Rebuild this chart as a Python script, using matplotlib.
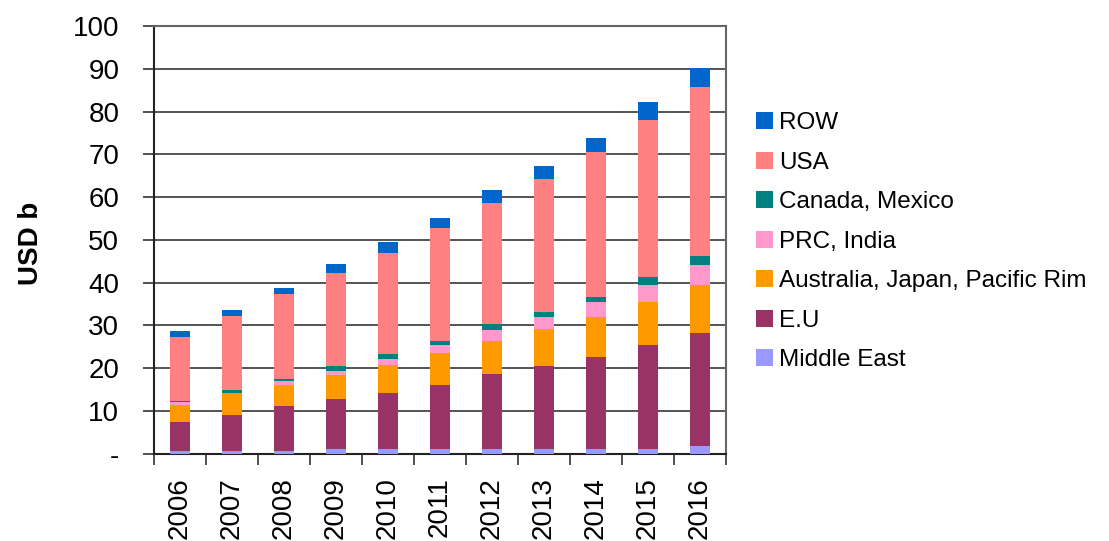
import numpy as np
import matplotlib
matplotlib.use("Agg")
import matplotlib.pyplot as plt
from matplotlib.ticker import FixedLocator

plt.rcParams['font.family'] = ['Liberation Sans', 'DejaVu Sans']

# --- dados (USD b) ---
anos = ['2006', '2007', '2008', '2009', '2010', '2011', '2012', '2013', '2014', '2015', '2016']
middle_east = [0.7, 0.7, 0.7, 1.1, 1.1, 1.1, 1.1, 1.1, 1.1, 1.1, 1.8]
eu = [6.8, 8.4, 10.5, 11.7, 13.1, 15.0, 17.6, 19.4, 21.5, 24.3, 26.4]
australia_japan = [4.0, 5.0, 4.9, 5.6, 6.6, 7.5, 7.7, 8.7, 9.4, 10.1, 11.2]
prc_india = [0.7, 0.1, 1.0, 0.9, 1.4, 1.9, 2.6, 2.8, 3.5, 4.0, 4.7]
canada_mexico = [0.2, 0.8, 0.5, 1.2, 1.2, 0.9, 1.4, 1.2, 1.2, 1.9, 2.1]
usa = [15.0, 17.1, 19.8, 21.8, 23.6, 26.4, 28.3, 31.1, 33.9, 36.7, 39.5]
row = [1.2, 1.6, 1.4, 2.1, 2.6, 2.3, 3.0, 3.0, 3.3, 4.2, 4.5]

series = [
    ('Middle East', middle_east, '#9999FF'),
    ('E.U', eu, '#993366'),
    ('Australia, Japan, Pacific Rim', australia_japan, '#FF9900'),
    ('PRC, India', prc_india, '#FF99CC'),
    ('Canada, Mexico', canada_mexico, '#008080'),
    ('USA', usa, '#FF8080'),
    ('ROW', row, '#0066CC'),
]

fig = plt.figure(figsize=(11.09, 5.41), dpi=100)
ax = fig.add_axes([0.1389, 0.1612, 0.5158, 0.7907])

x = np.arange(len(anos))
base = np.zeros(len(anos))
barras = []
for nome, valores, cor in series:
    b = ax.bar(x, valores, bottom=base, width=0.40, color=cor, label=nome, zorder=3)
    barras.append(b)
    base += np.array(valores)

# eixos e grade
ax.set_xlim(-0.5, len(anos) - 0.5)
ax.set_ylim(0, 100)
ax.set_yticks(range(0, 101, 10))
ax.set_yticklabels(['-'] + [str(v) for v in range(10, 101, 10)], fontsize=20)
ax.yaxis.grid(True, color='#555555', linewidth=1.4, zorder=0)
ax.set_axisbelow(True)

ax.set_xticks(x)
ax.set_xticklabels(anos, rotation=90, fontsize=20)
ax.xaxis.set_minor_locator(FixedLocator(np.arange(-0.5, len(anos), 1.0)))
ax.tick_params(axis='x', which='major', length=0, pad=17)
ax.tick_params(axis='x', which='minor', length=8, width=1.2, color='#333333')
ax.tick_params(axis='y', length=8, width=1.2, color='#333333', pad=17)

for lado in ['left', 'bottom']:
    ax.spines[lado].set_color('#222222')
    ax.spines[lado].set_linewidth(1.5)
for lado in ['top', 'right']:
    ax.spines[lado].set_color('#666666')
    ax.spines[lado].set_linewidth(1.5)

fig.text(31 / 1109, 1 - 243 / 541, 'USD b', rotation=90, fontsize=20,
         fontweight='bold', ha='center', va='center')

# legenda (ordem invertida: ROW no topo)
fig.legend(barras[::-1], [s[0] for s in series][::-1],
           loc='upper left', bbox_to_anchor=(756 / 1109, 1 - 112 / 541),
           frameon=False, fontsize=17.5, handlelength=0.7, handleheight=0.7,
           handletextpad=0.24, labelspacing=0.72, borderpad=0, borderaxespad=0)

fig.savefig('out.png', dpi=100)
